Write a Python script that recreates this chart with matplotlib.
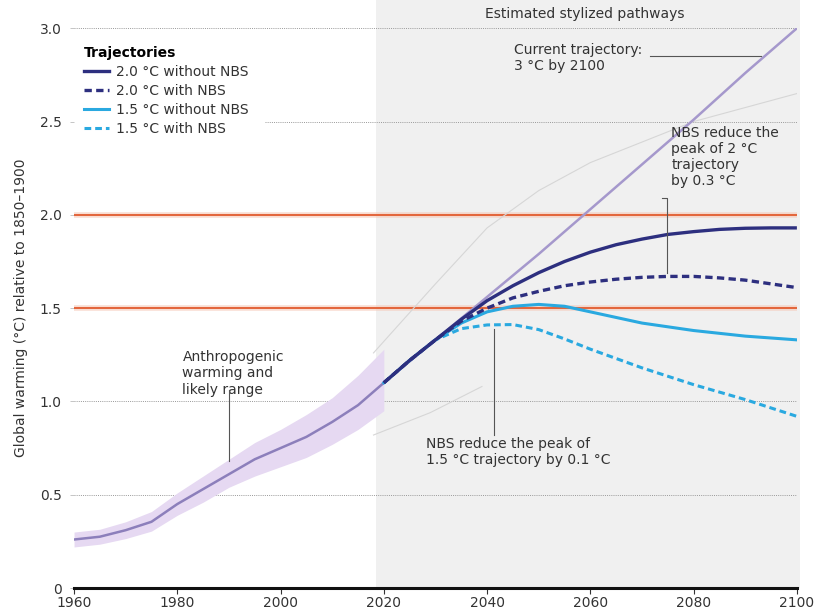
import matplotlib
matplotlib.use("Agg")
import matplotlib.pyplot as plt
import numpy as np
from matplotlib.lines import Line2D

plt.rcParams['font.family'] = ['DejaVu Sans']

# ---------------- data ----------------
hist_years = [1960, 1965, 1970, 1975, 1980, 1985, 1990, 1995, 2000, 2005, 2010, 2015, 2020]
hist_warm = [0.26, 0.275, 0.31, 0.355, 0.45, 0.53, 0.61, 0.69, 0.75, 0.81, 0.89, 0.98, 1.10]
hist_low = [0.22, 0.235, 0.265, 0.305, 0.39, 0.46, 0.54, 0.60, 0.65, 0.70, 0.77, 0.85, 0.95]
hist_high = [0.30, 0.315, 0.355, 0.41, 0.51, 0.60, 0.69, 0.78, 0.85, 0.93, 1.02, 1.14, 1.28]

cur_years = [2020, 2030, 2040, 2050, 2060, 2070, 2080, 2090, 2100]
cur_traj = [1.10, 1.33, 1.56, 1.79, 2.03, 2.27, 2.51, 2.76, 3.00]

path_years = [2020, 2025, 2030, 2035, 2040, 2045, 2050, 2055, 2060, 2065, 2070,
              2075, 2080, 2085, 2090, 2095, 2100]
t20_without = [1.10, 1.22, 1.33, 1.44, 1.54, 1.62, 1.69, 1.75, 1.80, 1.84, 1.87,
               1.895, 1.91, 1.922, 1.928, 1.93, 1.93]
t20_with = [1.10, 1.22, 1.33, 1.43, 1.50, 1.555, 1.59, 1.62, 1.64, 1.655, 1.665,
            1.67, 1.67, 1.662, 1.65, 1.63, 1.61]
t15_without = [1.10, 1.22, 1.33, 1.42, 1.48, 1.51, 1.52, 1.51, 1.48, 1.45, 1.42,
               1.40, 1.38, 1.365, 1.35, 1.34, 1.33]
t15_with = [1.10, 1.22, 1.33, 1.39, 1.41, 1.412, 1.385, 1.335, 1.28, 1.23, 1.18,
            1.135, 1.09, 1.05, 1.01, 0.965, 0.92]

range_up_years = [2018, 2030, 2040, 2050, 2060, 2080, 2100]
range_up = [1.26, 1.63, 1.93, 2.13, 2.28, 2.50, 2.65]
range_lo_years = [2018, 2029, 2039]
range_lo = [0.82, 0.94, 1.08]

limits = [1.5, 2.0]
grid_levels = [0.5, 1.0, 3.0]
x_ticks = [1960, 1980, 2000, 2020, 2040, 2060, 2080, 2100]
y_ticks = [0, 0.5, 1.0, 1.5, 2.0, 2.5, 3.0]
y_ticklabels = ["0", "0.5", "1.0", "1.5", "2.0", "2.5", "3.0"]

# ---------------- colours ----------------
NAVY = "#2d2f7f"
CYAN = "#2aa9e0"
PURPLE = "#8c7fbb"
PURPLE_LIGHT = "#a598cc"
BAND = "#e6d9f2"
ORANGE = "#e3643a"
TXT = "#333333"
LEAD = "#555555"

fig = plt.figure(figsize=(8.19, 6.14), dpi=100)
ax = fig.add_axes([0.0904, 0.0423, 0.8826, 0.9117])
ax.set_xlim(1960, 2100)
ax.set_ylim(0, 3.0)

# gray shaded future area
ax.axvspan(2018.5, 2100.6, ymin=0, ymax=1.06, color="#f0f0f0", zorder=0, clip_on=False, lw=0)

# grid lines
for g in grid_levels:
    ax.axhline(g, color="#999999", lw=0.7, ls=(0, (1, 1.2)), zorder=1)
ax.plot([1997, 2100], [2.5, 2.5], color="#999999", lw=0.7, ls=(0, (1, 1.2)), zorder=1)

# limit lines
for l in limits:
    ax.axhline(l, color="#f6c7b5", lw=4, zorder=2, alpha=0.6)
    ax.axhline(l, color=ORANGE, lw=1.4, zorder=2)

# faint range lines
ax.plot(range_up_years, range_up, color="#d6d6d6", lw=0.8, zorder=2)
ax.plot(range_lo_years, range_lo, color="#d6d6d6", lw=0.8, zorder=2)

# historical band and line
ax.fill_between(hist_years, hist_low, hist_high, color=BAND, lw=0, zorder=3)
ax.plot(hist_years, hist_warm, color=PURPLE, lw=1.8, zorder=4)

# current trajectory
ax.plot(cur_years, cur_traj, color=PURPLE_LIGHT, lw=1.8, zorder=4)

# pathways
ax.plot(path_years, t20_without, color=NAVY, lw=2.4, zorder=6, solid_capstyle="butt")
ax.plot(path_years, t20_with, color=NAVY, lw=2.4, ls=(0, (2.2, 1.3)), zorder=6)
ax.plot(path_years, t15_without, color=CYAN, lw=2.2, zorder=5)
ax.plot(path_years, t15_with, color=CYAN, lw=2.2, ls=(0, (2.2, 1.3)), zorder=5)

# axes styling
for s in ["top", "right", "left"]:
    ax.spines[s].set_visible(False)
ax.spines["bottom"].set_linewidth(2.2)
ax.spines["bottom"].set_color("#111111")
ax.spines["bottom"].set_zorder(7)
ax.set_xticks(x_ticks)
ax.set_xticklabels([str(x) for x in x_ticks], fontsize=10, color=TXT)
ax.tick_params(axis="x", length=4, width=0.8, color="#333333", pad=2)
ax.set_yticks(y_ticks)
ax.set_yticklabels(y_ticklabels, fontsize=10, color=TXT)
ax.tick_params(axis="y", length=3, width=0.6, color="#bbbbbb", pad=6)
ax.set_ylabel("Global warming (°C) relative to 1850\u20131900", fontsize=10, color=TXT, labelpad=8)

# legend
handles = [
    Line2D([], [], color=NAVY, lw=2.4),
    Line2D([], [], color=NAVY, lw=2.4, ls=(0, (2.2, 1.3))),
    Line2D([], [], color=CYAN, lw=2.2),
    Line2D([], [], color=CYAN, lw=2.2, ls=(0, (2.2, 1.3))),
]
labels = ["2.0 °C without NBS", "2.0 °C with NBS", "1.5 °C without NBS", "1.5 °C with NBS"]
leg = ax.legend(handles, labels, title="Trajectories", loc="upper left",
                bbox_to_anchor=(0.0, 0.985), frameon=False, fontsize=10,
                handlelength=1.8, handletextpad=0.5, labelspacing=0.35,
                borderaxespad=0.3)
leg.get_title().set_fontweight("bold")
leg.get_title().set_fontsize(10)
leg._legend_box.align = "left"
for t in leg.get_texts():
    t.set_color(TXT)

# annotations
ax.text(2059, 3.075, "Estimated stylized pathways", fontsize=10, color=TXT, ha="center", va="center")

ax.text(2045.2, 2.84, "Current trajectory:\n3 °C by 2100", fontsize=10, color=TXT,
        ha="left", va="center", linespacing=1.25, zorder=8)
ax.plot([2071.5, 2093], [2.85, 2.85], color=LEAD, lw=0.8, zorder=8)

ax.text(2075.7, 2.31, "NBS reduce the\npeak of 2 °C\ntrajectory\nby 0.3 °C", fontsize=10, color=TXT,
        ha="left", va="center", linespacing=1.2, zorder=8)
ax.plot([2073.8, 2074.8, 2074.8], [2.09, 2.09, 1.69], color=LEAD, lw=0.8, zorder=8)

ax.text(2028.2, 0.73, "NBS reduce the peak of\n1.5 °C trajectory by 0.1 °C", fontsize=10, color=TXT,
        ha="left", va="center", linespacing=1.2, zorder=8)
ax.plot([2041.4, 2041.4], [0.82, 1.39], color=LEAD, lw=0.8, zorder=8)

ax.text(1981.0, 1.15, "Anthropogenic\nwarming and\nlikely range", fontsize=10, color=TXT,
        ha="left", va="center", linespacing=1.2, zorder=8)
ax.plot([1990, 1990], [0.68, 1.06], color=LEAD, lw=0.8, zorder=8)

fig.savefig("out.png", dpi=100, facecolor="white")
